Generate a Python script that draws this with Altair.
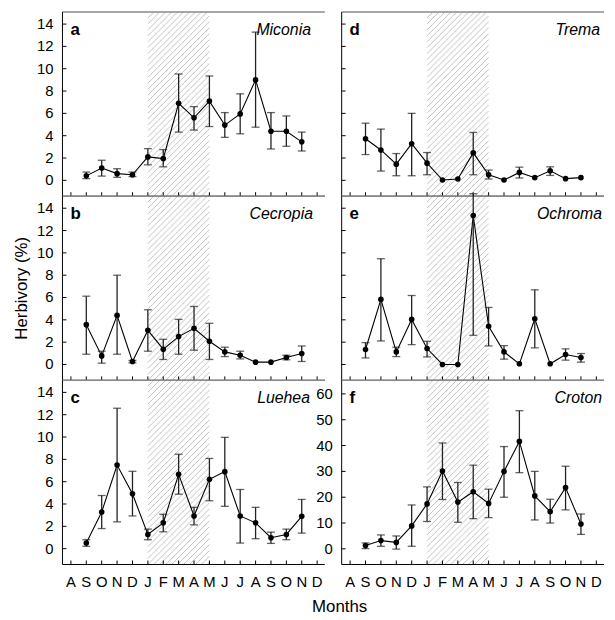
import pandas as pd
import altair as alt

# ---------------- data ----------------
months = ["A", "S", "O", "N", "D", "J", "F", "M", "A", "M", "J", "J", "A", "S", "O", "N", "D"]
month_idx = list(range(1, 16))  # S .. N (second year)

miconia_mean = [0.4, 1.1, 0.6, 0.5, 2.1, 1.95, 6.9, 5.6, 7.1, 4.95, 5.95, 9.0, 4.4, 4.4, 3.45]
miconia_lo = [0.15, 0.38, 0.27, 0.33, 1.39, 1.21, 4.32, 4.5, 4.82, 3.85, 4.17, 4.76, 2.81, 3.05, 2.63]
miconia_hi = [0.74, 1.8, 1.04, 0.74, 2.84, 2.75, 9.53, 6.6, 9.35, 6.07, 7.75, 13.28, 6.07, 5.77, 4.32]

cecropia_mean = [3.57, 0.77, 4.4, 0.27, 3.06, 1.37, 2.5, 3.24, 2.08, 1.13, 0.83, 0.21, 0.21, 0.62, 0.98]
cecropia_lo = [0.92, 0.12, 0.92, 0.15, 1.19, 0.45, 0.92, 1.28, 0.45, 0.71, 0.5, None, None, 0.42, 0.27]
cecropia_hi = [6.12, 1.19, 8.0, 0.36, 4.9, 2.26, 4.04, 5.2, 3.69, 1.55, 1.19, None, None, 0.83, 1.66]

luehea_mean = [0.5, 3.28, 7.49, 4.91, 1.27, 2.31, 6.66, 2.93, 6.21, 6.9, 2.93, 2.31, 0.98, 1.27, 2.9]
luehea_lo = [0.21, 1.8, 2.4, 2.93, 0.8, 1.51, 4.88, 2.13, 4.29, 3.79, 0.5, 0.89, 0.47, 0.8, 1.39]
luehea_hi = [0.8, 4.76, 12.58, 6.93, 1.75, 3.08, 8.46, 3.7, 8.08, 9.97, 5.3, 3.7, 1.48, 1.75, 4.41]

trema_mean = [3.73, 2.72, 1.45, 3.28, 1.54, 0.03, 0.12, 2.46, 0.5, 0.03, 0.71, 0.24, 0.86, 0.15, 0.24]
trema_lo = [2.31, 0.83, 0.41, 0.41, 0.5, None, None, 0.5, 0.12, None, 0.21, None, 0.44, None, None]
trema_hi = [5.12, 4.59, 2.4, 6.0, 2.49, None, None, 4.29, 0.92, None, 1.18, None, 1.21, None, None]

ochroma_mean = [1.34, 5.83, 1.13, 4.04, 1.43, 0.0, 0.0, 13.35, 3.42, 1.13, 0.06, 4.1, 0.06, 0.89, 0.62]
ochroma_lo = [0.59, 2.11, 0.71, 1.78, 0.68, None, None, 2.62, 1.66, 0.48, None, 1.49, None, 0.39, 0.21]
ochroma_hi = [1.96, 9.48, 1.55, 6.18, 2.08, None, None, 15.3, 5.11, 1.69, None, 6.69, None, 1.40, 0.98]

croton_mean = [1.3, 3.2, 2.5, 8.9, 17.4, 30.1, 18.1, 22.1, 17.6, 30.0, 41.6, 20.5, 14.4, 23.7, 9.6]
croton_lo = [0.1, 1.0, -0.1, 1.0, 10.6, 19.1, 10.3, 11.7, 12.1, 20.0, 29.5, 11.2, 10.0, 15.1, 5.6]
croton_hi = [2.3, 5.4, 5.0, 17.0, 24.0, 41.0, 25.7, 32.4, 23.1, 39.6, 53.5, 30.0, 19.2, 32.0, 13.5]

dry_start, dry_end = 5, 9  # J .. M hatched season

ticks_small = [0, 2, 4, 6, 8, 10, 12, 14]
ticks_large = [0, 10, 20, 30, 40, 50, 60]

# ---------------- style ----------------
W, H = 265, 186
XDOM = [-0.55, 16.5]
FONT = "Liberation Sans"
TICK_LEN = 4
YD = [-1.42, 15.08]
YF = [-6.05, 65.25]


def hatch_df(ymin, ymax):
    sx = W / (XDOM[1] - XDOM[0])
    sy = H / (ymax - ymin)
    r = sx / sy
    hx = (ymax - ymin) / r
    step = 6.0 / sx
    rows = []
    c = dry_start - hx
    while c < dry_end:
        us = max(dry_start, c)
        ue = min(dry_end, c + hx)
        if ue > us:
            rows.append({"hx1": us, "hy1": ymin + (us - c) * r,
                         "hx2": ue, "hy2": ymin + (ue - c) * r})
        c += step
    return pd.DataFrame(rows)


def txt(**kw):
    base = dict(font=FONT, color="black", fontSize=15)
    base.update(kw)
    return base


def panel(letter, name, mean, lo, hi, ydom, yticks, show_xlabels, show_ylabels,
          name_x=251, ytitle=None, xtitle=None, xtitle_x=0):
    df = pd.DataFrame({"m": month_idx, "v": mean, "lo": lo, "hi": hi})
    xs = alt.Scale(domain=XDOM, nice=False, zero=False)
    ys = alt.Scale(domain=ydom, nice=False, zero=False)
    one = pd.DataFrame({"k": [0]})

    layers = []
    hd = hatch_df(ydom[0], ydom[1])
    layers.append(alt.Chart(hd).mark_rule(color="#a8a8a8", strokeWidth=0.7).encode(
        x=alt.X("hx1:Q", scale=xs, axis=None), x2="hx2:Q",
        y=alt.Y("hy1:Q", scale=ys, axis=None), y2="hy2:Q"))

    # frame: grey top line, black left and bottom axis lines
    layers.append(alt.Chart(one).mark_rule(color="#8a8a8a", strokeWidth=1.5).encode(
        x=alt.value(0), x2=alt.value(W), y=alt.value(0)))
    layers.append(alt.Chart(one).mark_rule(color="black", strokeWidth=1).encode(
        x=alt.value(0), x2=alt.value(W), y=alt.value(H)))
    layers.append(alt.Chart(one).mark_rule(color="black", strokeWidth=1).encode(
        x=alt.value(0), y=alt.value(0), y2=alt.value(H)))

    # inward ticks
    mdf = pd.DataFrame({"t": list(range(len(months))), "lab": months})
    layers.append(alt.Chart(mdf).mark_rule(color="black", strokeWidth=1).encode(
        x=alt.X("t:Q", scale=xs, axis=None), y=alt.value(H - TICK_LEN), y2=alt.value(H)))
    ydf = pd.DataFrame({"t": yticks, "lab": [str(v) for v in yticks]})
    layers.append(alt.Chart(ydf).mark_rule(color="black", strokeWidth=1).encode(
        y=alt.Y("t:Q", scale=ys, axis=None), x=alt.value(0), x2=alt.value(TICK_LEN)))

    if show_xlabels:
        layers.append(alt.Chart(mdf).mark_text(**txt(baseline="top", align="center")).encode(
            x=alt.X("t:Q", scale=xs, axis=None), y=alt.value(H + 11), text="lab:N"))
    if show_ylabels:
        layers.append(alt.Chart(ydf).mark_text(**txt(baseline="middle", align="right")).encode(
            y=alt.Y("t:Q", scale=ys, axis=None), x=alt.value(-9), text="lab:N"))
    if ytitle:
        layers.append(alt.Chart(pd.DataFrame({"k": [ytitle]})).mark_text(
            **txt(fontSize=17, angle=270, align="center", baseline="middle")).encode(
            text="k:N", x=alt.value(-41), y=alt.value(H / 2)))
    if xtitle:
        layers.append(alt.Chart(pd.DataFrame({"k": [xtitle]})).mark_text(
            **txt(fontSize=17, align="center", baseline="alphabetic")).encode(
            text="k:N", x=alt.value(xtitle_x), y=alt.value(H + 48)))

    # data
    layers.append(alt.Chart(df).mark_line(color="black", strokeWidth=1.1).encode(
        x=alt.X("m:Q", scale=xs, axis=None), y=alt.Y("v:Q", scale=ys, axis=None)))
    eb = df.dropna()
    layers.append(alt.Chart(eb).mark_rule(color="#222", strokeWidth=1.3).encode(
        x=alt.X("m:Q", scale=xs, axis=None),
        y=alt.Y("lo:Q", scale=ys, axis=None), y2="hi:Q"))
    for fld in ("lo", "hi"):
        layers.append(alt.Chart(eb).mark_tick(color="#222", orient="horizontal", size=8,
                                              thickness=1.3).encode(
            x=alt.X("m:Q", scale=xs, axis=None), y=alt.Y(f"{fld}:Q", scale=ys, axis=None)))
    layers.append(alt.Chart(df).mark_circle(color="black", opacity=1, size=32).encode(
        x=alt.X("m:Q", scale=xs, axis=None), y=alt.Y("v:Q", scale=ys, axis=None)))

    # panel letter and species name
    layers.append(alt.Chart(pd.DataFrame({"k": [letter]})).mark_text(
        **txt(fontSize=17, fontWeight="bold", align="left")).encode(
        text="k:N", x=alt.value(8), y=alt.value(18)))
    layers.append(alt.Chart(pd.DataFrame({"k": [name]})).mark_text(
        **txt(fontSize=16, fontStyle="italic", align="right")).encode(
        text="k:N", x=alt.value(name_x), y=alt.value(18)))

    return alt.layer(*layers).properties(width=W, height=H)


a = panel("a", "Miconia", miconia_mean, miconia_lo, miconia_hi, YD, ticks_small, False, True)
b = panel("b", "Cecropia", cecropia_mean, cecropia_lo, cecropia_hi, YD, ticks_small, False, True,
          name_x=253, ytitle="Herbivory (%)")
c = panel("c", "Luehea", luehea_mean, luehea_lo, luehea_hi, YD, ticks_small, True, True,
          name_x=250, xtitle="Months", xtitle_x=280)
d = panel("d", "Trema", trema_mean, trema_lo, trema_hi, YD, ticks_small, False, False, name_x=261)
e = panel("e", "Ochroma", ochroma_mean, ochroma_lo, ochroma_hi, YD, ticks_small, False, False,
          name_x=263)
f = panel("f", "Croton", croton_mean, croton_lo, croton_hi, YF, ticks_large, True, True, name_x=263)

chart = alt.concat(a, d, b, e, c, f, columns=2, spacing={"row": 0, "column": 17},
                   bounds="flush").properties(
    padding={"left": 5, "top": 0, "right": 2, "bottom": 2}
).configure_view(stroke=None)

chart.save("out.html", embed_options={"renderer": "svg", "actions": False})
